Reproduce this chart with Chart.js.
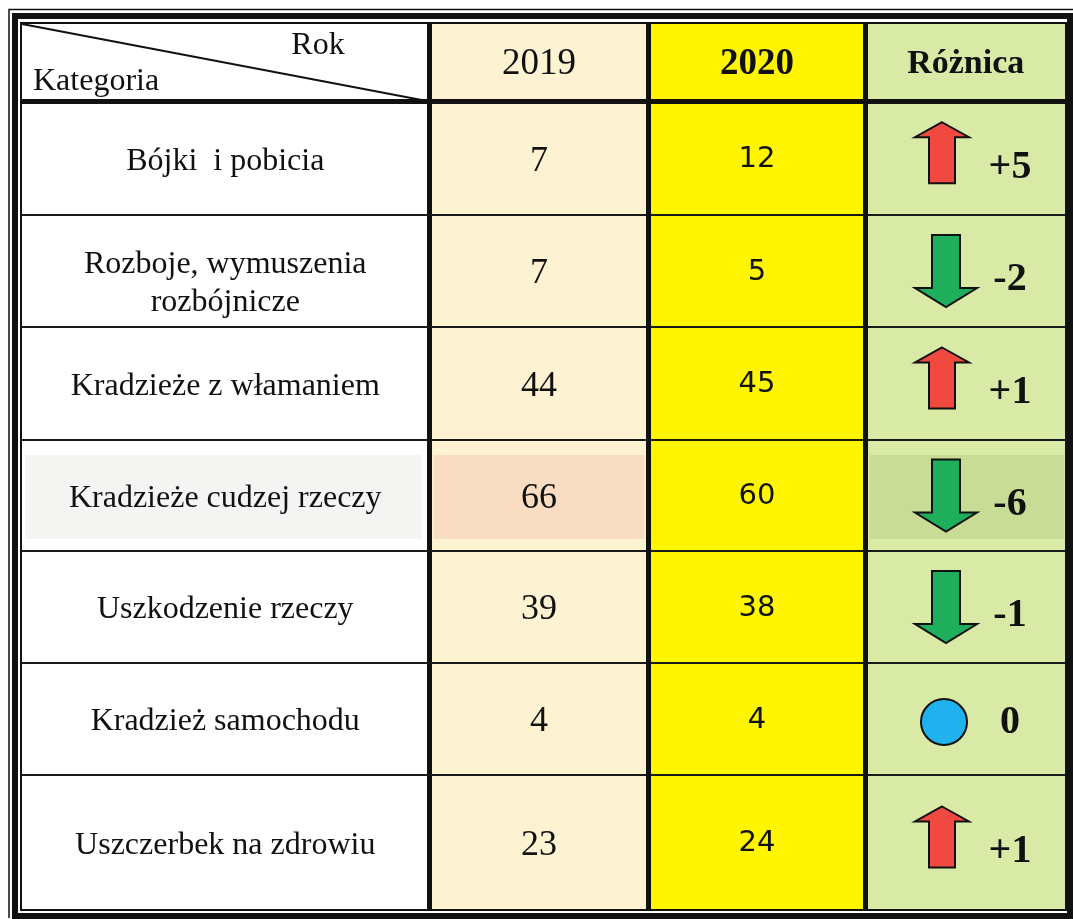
<!DOCTYPE html>
<html><head><meta charset="utf-8">
<script src="https://cdn.jsdelivr.net/npm/chart.js@4/dist/chart.umd.min.js"></script>
<style>html,body{margin:0;padding:0;background:#fff}canvas{display:block}</style>
</head><body>
<canvas id="c" width="1073" height="919"></canvas>
<script>
// ---- data ----
const categories = [
  ['Bójki  i pobicia'],
  ['Rozboje, wymuszenia', 'rozbójnicze'],
  ['Kradzieże z włamaniem'],
  ['Kradzieże cudzej rzeczy'],
  ['Uszkodzenie rzeczy'],
  ['Kradzież samochodu'],
  ['Uszczerbek na zdrowiu']
];
const values2019 = [7, 7, 44, 66, 39, 4, 23];
const values2020 = [12, 5, 45, 60, 38, 4, 24];
const differences = [5, -2, 1, -6, -1, 0, 1];
const columnHeaders = ['2019', '2020', 'Różnica'];
const cornerLabels = ['Rok', 'Kategoria'];

// ---- layout (pixel-like units on the chart's own linear scales) ----
const COLS = [21, 429.5, 648.5, 865.5, 1066];
const ROWS = [23, 101.5, 215, 327, 440, 551, 663, 775, 910];
const rowCenter = i => (ROWS[i + 1] + ROWS[i + 2]) / 2;
const colCenter = c => (COLS[c] + COLS[c + 1]) / 2;
const ICON_X = 942, DIFF_TEXT_X = 1010;

const SERIF = '"Liberation Serif", "Times New Roman", serif';
const SANS = '"DejaVu Sans", Verdana, sans-serif';

function pts(xv, arr) { return arr.map((v, i) => ({ x: xv, y: rowCenter(i), v })); }

const tablePlugin = {
  id: 'tablePlugin',
  beforeDatasetsDraw(chart) {
    const { ctx, scales: { x, y } } = chart;
    const X = v => x.getPixelForValue(v), Y = v => y.getPixelForValue(v);
    ctx.save();
    const fill = (x0, y0, x1, y1, c) => { ctx.fillStyle = c; ctx.fillRect(X(x0), Y(y0), X(x1) - X(x0), Y(y1) - Y(y0)); };
    fill(COLS[1], ROWS[0], COLS[2], ROWS[8], '#fdf3d2');
    fill(COLS[2], ROWS[0], COLS[3], ROWS[8], '#fff500');
    fill(COLS[3], ROWS[0], COLS[4], ROWS[8], '#d9eaa7');
    // highlighted row (Kradzieże cudzej rzeczy)
    const hr = 3, ht = ROWS[hr + 1] + 15, hb = ROWS[hr + 2] - 12;
    fill(COLS[0] + 4, ht, COLS[1] - 8, hb, '#f4f4f2');
    fill(COLS[1] + 4, ht, COLS[2] - 4, hb, '#f8ddc2');
    fill(COLS[3] + 4, ht, COLS[4] - 2, hb, '#c8dc95');

    const line = (x0, y0, x1, y1, w, c) => {
      ctx.beginPath(); ctx.lineWidth = w; ctx.strokeStyle = c || '#111';
      ctx.moveTo(X(x0), Y(y0)); ctx.lineTo(X(x1), Y(y1)); ctx.stroke();
    };
    for (let i = 2; i < ROWS.length - 1; i++) line(COLS[0], ROWS[i], COLS[4], ROWS[i], 2, '#1a1a1a');
    line(COLS[0], ROWS[1], COLS[4], ROWS[1], 5);
    for (let c = 1; c < COLS.length - 1; c++) line(COLS[c], ROWS[0], COLS[c], ROWS[8], 5);
    line(COLS[0] + 1, ROWS[0] + 1, COLS[1], ROWS[1], 2);
    ctx.lineWidth = 2; ctx.strokeStyle = '#111';
    ctx.strokeRect(X(COLS[0]), Y(ROWS[0]), X(COLS[4]) - X(COLS[0]), Y(ROWS[8]) - Y(ROWS[0]));
    ctx.lineWidth = 6;
    ctx.strokeRect(X(15), Y(16), X(1070) - X(15), Y(916) - Y(16));
    ctx.lineWidth = 1.5;
    ctx.beginPath();
    ctx.moveTo(X(9), Y(918)); ctx.lineTo(X(9), Y(9.5)); ctx.lineTo(X(1073), Y(9.5));
    ctx.stroke();
    ctx.restore();
  },
  afterDatasetsDraw(chart) {
    const { ctx, scales: { x, y } } = chart;
    const X = v => x.getPixelForValue(v), Y = v => y.getPixelForValue(v);
    ctx.save();
    ctx.fillStyle = '#111';
    ctx.textBaseline = 'middle';
    ctx.font = '32px ' + SERIF;
    ctx.textAlign = 'center';
    ctx.fillText(cornerLabels[0], X(318), Y(46));
    ctx.textAlign = 'left';
    ctx.fillText(cornerLabels[1], X(33), Y(82));
    const hy = Y((ROWS[0] + ROWS[1]) / 2 + 2);
    ctx.textAlign = 'center';
    ctx.font = '37px ' + SERIF;
    ctx.fillText(columnHeaders[0], X(colCenter(1)), hy);
    ctx.font = 'bold 37px ' + SERIF;
    ctx.fillText(columnHeaders[1], X(colCenter(2)), hy);
    ctx.font = 'bold 34px ' + SERIF;
    ctx.fillText(columnHeaders[2], X(colCenter(3)), hy);

    const metas = chart.data.datasets.map((d, i) => chart.getDatasetMeta(i));
    ctx.font = '32px ' + SERIF;
    metas[0].data.forEach((p, i) => {
      const lines = categories[i];
      const lh = 38;
      const off = lines.length > 1 ? 10 : 0;
      lines.forEach((t, k) => ctx.fillText(t, p.x, p.y + 3 + off + (k - (lines.length - 1) / 2) * lh));
    });
    ctx.font = '36px ' + SERIF;
    metas[1].data.forEach((p, i) => ctx.fillText(String(values2019[i]), p.x, p.y + 3));
    ctx.font = '29px ' + SANS;
    metas[2].data.forEach((p, i) => ctx.fillText(String(values2020[i]), p.x, p.y + 1));
    metas[3].data.forEach((p, i) => {
      const d = differences[i];
      ctx.lineWidth = 2; ctx.strokeStyle = '#111';
      if (d > 0) {
        const cx = p.x, top = p.y - 36, hw = 27, sw = 13, hh = 15, bot = p.y + 25;
        ctx.beginPath();
        ctx.moveTo(cx, top); ctx.lineTo(cx + hw, top + hh); ctx.lineTo(cx + sw, top + hh);
        ctx.lineTo(cx + sw, bot); ctx.lineTo(cx - sw, bot); ctx.lineTo(cx - sw, top + hh);
        ctx.lineTo(cx - hw, top + hh); ctx.closePath();
        ctx.fillStyle = '#f04a40'; ctx.fill(); ctx.stroke();
      } else if (d < 0) {
        const cx = p.x + 4, top = p.y - 36, hw = 31, sw = 14, tip = p.y + 36, hb = tip - 19;
        ctx.beginPath();
        ctx.moveTo(cx - sw, top); ctx.lineTo(cx + sw, top); ctx.lineTo(cx + sw, hb);
        ctx.lineTo(cx + hw, hb); ctx.lineTo(cx, tip); ctx.lineTo(cx - hw, hb);
        ctx.lineTo(cx - sw, hb); ctx.closePath();
        ctx.fillStyle = '#1fae5c'; ctx.fill(); ctx.stroke();
      } else {
        ctx.beginPath(); ctx.arc(p.x + 2, p.y + 3, 23, 0, Math.PI * 2);
        ctx.fillStyle = '#1fb2ee'; ctx.fill(); ctx.stroke();
      }
      ctx.fillStyle = '#111';
      ctx.font = 'bold 40px ' + SERIF;
      const label = d > 0 ? '+' + d : String(d);
      ctx.fillText(label, X(DIFF_TEXT_X), p.y + (d === 0 ? 4 : 9));
    });
    ctx.restore();
  }
};

new Chart(document.getElementById('c'), {
  type: 'scatter',
  data: {
    datasets: [
      { label: 'Kategoria', data: pts(colCenter(0), categories), pointRadius: 0 },
      { label: columnHeaders[0], data: pts(colCenter(1), values2019), pointRadius: 0 },
      { label: columnHeaders[1], data: pts(colCenter(2), values2020), pointRadius: 0 },
      { label: columnHeaders[2], data: pts(ICON_X, differences), pointRadius: 0 }
    ]
  },
  options: {
    responsive: false,
    animation: false,
    events: [],
    layout: { padding: 0 },
    plugins: { legend: { display: false }, tooltip: { enabled: false } },
    scales: {
      x: { type: 'linear', min: 0, max: 1073, display: false },
      y: { type: 'linear', min: 0, max: 919, reverse: true, display: false }
    }
  },
  plugins: [tablePlugin]
});
</script>
</body></html>
